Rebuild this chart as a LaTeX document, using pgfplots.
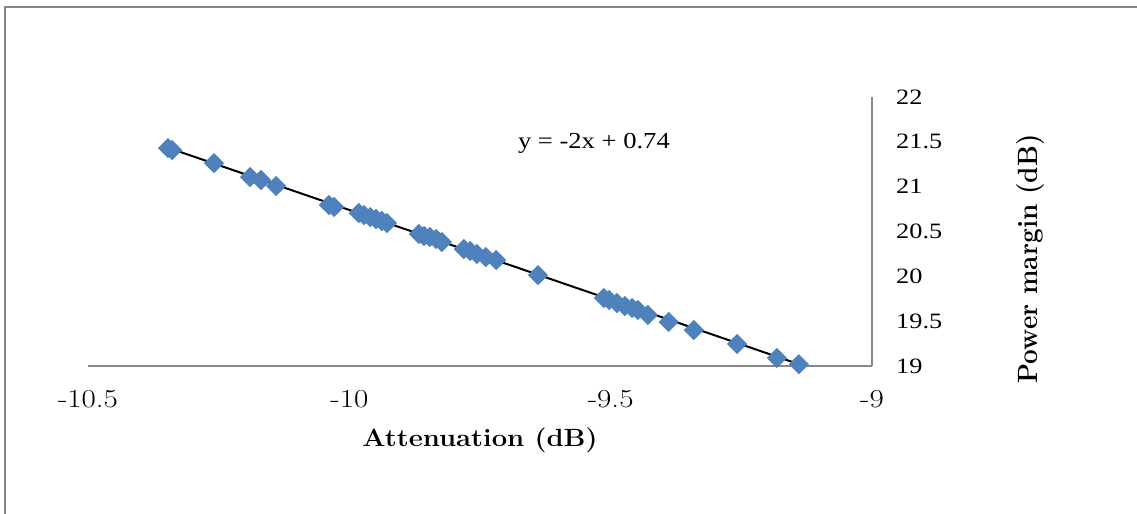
\documentclass[border=0pt]{standalone}
\usepackage{fontspec}
\setmainfont{Liberation Serif}
\newfontfamily\lmr{Latin Modern Roman}
\usepackage{pgfplots}
\pgfplotsset{compat=1.18}
\definecolor{mk}{HTML}{4F81BD}
\definecolor{ax}{HTML}{878787}
\pgfplotstableread{
x y
-10.347 21.430
-10.339 21.408
-10.259 21.263
-10.190 21.107
-10.169 21.074
-10.140 21.007
-10.039 20.795
-10.029 20.773
-9.982 20.706
-9.972 20.683
-9.960 20.661
-9.949 20.639
-9.938 20.617
-9.928 20.594
-9.867 20.472
-9.857 20.449
-9.846 20.438
-9.834 20.416
-9.823 20.382
-9.781 20.304
-9.769 20.282
-9.756 20.249
-9.739 20.215
-9.719 20.182
-9.639 20.014
-9.513 19.758
-9.503 19.736
-9.488 19.702
-9.473 19.669
-9.459 19.647
-9.448 19.624
-9.429 19.569
-9.389 19.491
-9.341 19.401
-9.258 19.245
-9.182 19.089
-9.140 19.020
}\datatable
\begin{document}
\begin{tikzpicture}[x=1bp,y=1bp]
\useasboundingbox (0,0) rectangle (1137,514);
\draw[ax, line width=1.5bp] (5,0) -- (5,507) -- (1137,507);
\begin{axis}[
  at={(88bp,148bp)}, anchor=south west,
  width=784bp, height=269bp, scale only axis,
  xmin=-10.5, xmax=-9, ymin=19, ymax=22,
  axis x line*=bottom, axis y line*=right,
  axis line style={ax, line width=1.5bp},
  xtick={-10.5,-10,-9.5,-9},
  ytick={19,19.5,20,20.5,21,21.5,22},
  major tick length=0pt,
  xticklabel={\scalebox{1.2}[1]{\pgfmathprintnumber[assume math mode=true]{\tick}}},
  yticklabel={\scalebox{1.2}[1]{\pgfmathprintnumber[assume math mode=true]{\tick}}},
  xticklabel style={font=\lmr\fontsize{26}{26}\selectfont, anchor=north, inner sep=0pt, yshift=-24bp},
  yticklabel style={font=\fontsize{22}{22}\selectfont, anchor=west, inner sep=0pt, xshift=24bp},
  xlabel={\scalebox{1.1}[1]{Attenuation (dB)}},
  ylabel={\scalebox{1.05}[1.12]{Power margin (dB)}},
  every axis x label/.style={at={(rel axis cs:0.5,-0.275)}, anchor=center, font=\lmr\bfseries\fontsize{25}{25}\selectfont},
  every axis y label/.style={at={(rel axis cs:1.2028,0.398)}, anchor=center, rotate=90, font=\lmr\bfseries\fontsize{25}{25}\selectfont},
  clip=false,
]
\addplot[only marks, mark=square*, mark size=6.9bp, mark options={rotate=45, fill=mk, draw=mk}] table[x=x,y=y] {\datatable};
\addplot[black, line width=2bp] coordinates {(-10.347,21.434) (-9.140,19.020)};
\node[font=\fontsize{23}{23}\selectfont] at (axis cs:-9.532,21.487) {\scalebox{1.16}[1]{y = -2x + 0.74}};
\end{axis}
\end{tikzpicture}
\end{document}
